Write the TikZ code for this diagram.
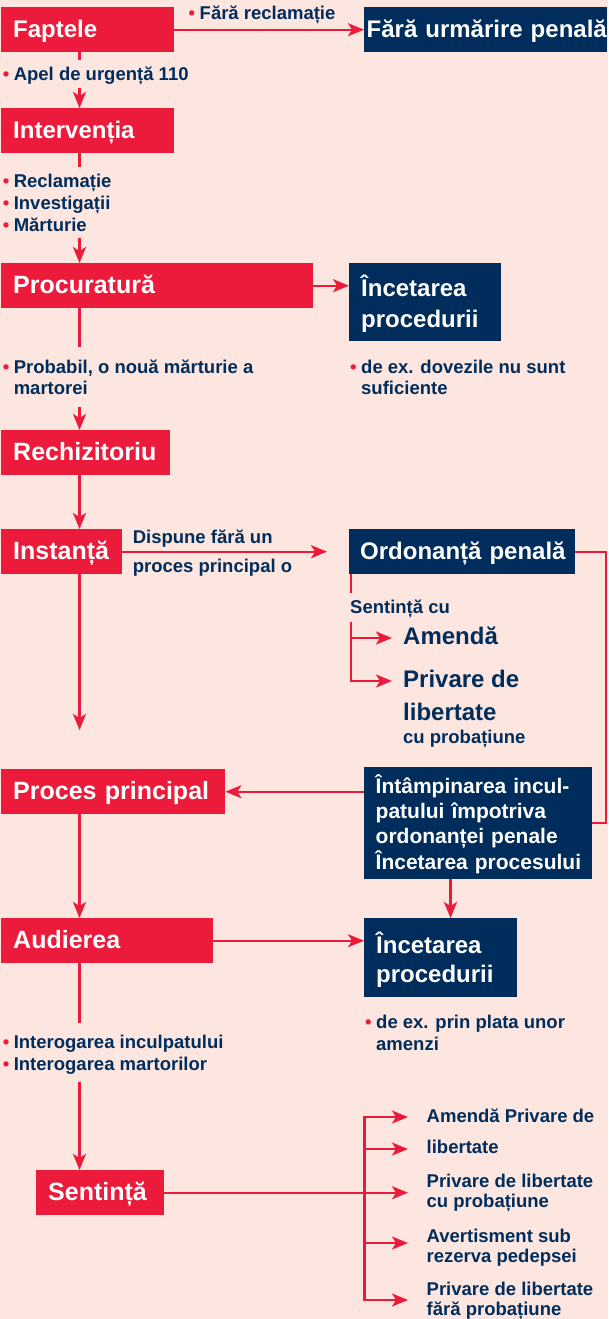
\documentclass[tikz,border=0pt]{standalone}
\usepackage{fontspec}
\setmainfont{Liberation Sans}
\usetikzlibrary{arrows.meta}
\definecolor{tred}{HTML}{ED1B3B}
\definecolor{tnavy}{HTML}{002D5C}
\definecolor{tbg}{HTML}{FCE6DF}
\newcommand\bul{\llap{\textcolor{tred}{•}\hspace{4.5pt}}}
\tikzset{
  box/.style={anchor=north west, inner ysep=0pt, inner xsep=12pt, text=white,
    font=\bfseries\fontsize{24}{30}\selectfont, align=left},
  redbox/.style={box, fill=tred},
  navybox/.style={box, fill=tnavy},
  onebox/.style={text height=30.5pt, text depth=14.5pt},
  bigger/.style={font=\bfseries\fontsize{25}{30}\selectfont},
  lbl/.style={anchor=base west, inner sep=0pt, text=tnavy,
    font=\bfseries\fontsize{18.5}{22}\selectfont, align=left},
  biglbl/.style={lbl, font=\bfseries\fontsize{24}{33}\selectfont},
  conn/.style={draw=tred, line width=2.2pt},
  arr/.style={conn, -{Stealth[length=16pt,width=13pt,inset=4pt]}},
}
\begin{document}
\begin{tikzpicture}[x=1pt,y=-1pt]
\fill[tbg] (0,0) rectangle (608,1319);
\useasboundingbox (0,0) rectangle (608,1319);

% boxes
\node[redbox, onebox, text width=149pt] (faptele) at (1,7) {Faptele};
\node[navybox, onebox, inner xsep=2.5pt, text width=238pt] (fara) at (364,7) {\mbox{Fără urmărire penală}};
\node[redbox, onebox, text width=149pt] (interv) at (1,108) {Intervenția};
\node[redbox, onebox, bigger, text width=288pt] (procur) at (1,263) {Procuratură};
\node[navybox, text width=128pt, text height=33pt, text depth=45pt,
  font=\bfseries\fontsize{24}{31}\selectfont] (incet1) at (349,263) {Încetarea\\procedurii};
\node[redbox, onebox, bigger, text width=145pt] (rechiz) at (1,430) {Rechizitoriu};
\node[redbox, onebox, bigger, text width=97pt] (instanta) at (1,529) {\mbox{Instanță}};
\node[navybox, onebox, inner xsep=11pt, text width=204pt] (ordon) at (349,529) {\mbox{Ordonanță penală}};
\node[redbox, onebox, bigger, text width=200pt] (procprinc) at (1,769) {\mbox{Proces principal}};
\node[navybox, inner xsep=11.5pt, text width=205pt, text height=26pt, text depth=86pt,
  font=\bfseries\fontsize{21}{25.3}\selectfont] (intamp) at (364,767)
  {\mbox{Întâmpinarea incul-}\\\mbox{patului împotriva}\\\mbox{ordonanței penale}\\\mbox{Încetarea procesului}};
\node[redbox, onebox, bigger, text width=188pt] (audierea) at (1,918) {Audierea};
\node[navybox, text width=129pt, text height=35pt, text depth=44pt,
  font=\bfseries\fontsize{24}{29}\selectfont] (incet2) at (364,918) {Încetarea\\procedurii};
\node[redbox, onebox, bigger, text width=104pt] (sentinta) at (36,1170) {\mbox{Sentință}};

% labels (multi-line labels are placed at the baseline of their last line)
\node[lbl] (farar) at (199.5,19.5) {\bul Fără reclamație};
\node[lbl] (apel) at (13.6,81) {\bul Apel de urgență 110};
\node[lbl] (reclam) at (13.6,231.7) {\bul Reclamație\\\bul Investigații\\\bul Mărturie};
\node[lbl, font=\bfseries\fontsize{18.5}{21.3}\selectfont] (probabil) at (13.6,394.3) {\bul Probabil, o nouă mărturie a\\martorei};
\node[lbl, font=\bfseries\fontsize{18.5}{21.3}\selectfont] (dovezi) at (361,394.3) {\bul de ex. dovezile nu sunt\\suficiente};
\node[lbl, font=\bfseries\fontsize{18.5}{29}\selectfont] (dispune) at (132.6,572) {Dispune fără un\\proces principal o};
\node[lbl] (sentcu) at (350,613) {Sentință cu};
\node[biglbl] (amenda) at (403,644) {Amendă};
\node[biglbl] (privare) at (403,720) {Privare de\\libertate};
\node[lbl] (cuprob) at (403,743) {cu probațiune};
\node[lbl] (plata) at (376,1050) {\bul de ex. prin plata unor\\amenzi};
\node[lbl] (interog) at (13.6,1070) {\bul Interogarea inculpatului\\\bul Interogarea martorilor};
\node[lbl] (s1) at (426.5,1122) {Amendă Privare de};
\node[lbl] (s2) at (426.5,1153) {libertate};
\node[lbl, font=\bfseries\fontsize{18.5}{20}\selectfont] (s3) at (426.5,1207) {Privare de libertate\\cu probațiune};
\node[lbl, font=\bfseries\fontsize{18.5}{20}\selectfont] (s4) at (426.5,1262) {Avertisment sub\\rezerva pedepsei};
\node[lbl, font=\bfseries\fontsize{18.5}{20}\selectfont] (s5) at (426.5,1315) {Privare de libertate\\fără probațiune};

% coordinates
\coordinate (vx) at (79.5,0);
\coordinate (g1) at (79.5,60);
\coordinate (g2) at (79.5,88);
\coordinate (g3) at (79.5,167);
\coordinate (g4) at (79.5,238);
\coordinate (g5) at (79.5,347);
\coordinate (g6) at (79.5,407);
\coordinate (g7) at (79.5,730);
\coordinate (g8) at (79.5,1023);
\coordinate (g9) at (79.5,1082);
\coordinate (rx) at (606,0);
\coordinate (o1) at (351,593);
\coordinate (o2) at (351,622);
\coordinate (o3) at (351,681);
\coordinate (o4) at (351,638);
\coordinate (ix) at (450.5,0);
\coordinate (b1) at (364.5,1117);
\coordinate (b2) at (364.5,1149);
\coordinate (b4) at (364.5,1243);
\coordinate (b5) at (364.5,1300);

% spine
\draw[conn] (faptele.south -| g1) -- (g1);
\draw[arr] (g2) -- (g2 |- interv.north);
\draw[conn] (interv.south -| g3) -- (g3);
\draw[arr] (g4) -- (g4 |- procur.north);
\draw[conn] (procur.south -| g5) -- (g5);
\draw[arr] (g6) -- (g6 |- rechiz.north);
\draw[arr] (rechiz.south -| vx) -- (vx |- instanta.north);
\draw[arr] (instanta.south -| g7) -- (g7);
\draw[arr] (procprinc.south -| vx) -- (vx |- audierea.north);
\draw[conn] (audierea.south -| g8) -- (g8);
\draw[arr] (g9) -- (g9 |- sentinta.north);

% horizontal connectors
\draw[arr] (faptele.east) -- (fara.west);
\draw[arr] (procur.east) -- (procur.east -| incet1.west);
\draw[arr, shorten >=22pt] (instanta.east) -- (instanta.east -| ordon.west);
\draw[conn] (ordon.east) -- (ordon.east -| rx) |- (intamp.east);
\draw[conn] (ordon.south -| o1) -- (o1);
\draw[arr, shorten >=11pt] (o2) |- (o3 -| privare.west);
\draw[arr, shorten >=11pt] (o4) -- (o4 -| amenda.west);
\draw[arr] (intamp.west |- procprinc.east) -- (procprinc.east);
\draw[arr] (intamp.south -| ix) -- (ix |- incet2.north);
\draw[arr] (audierea.east) -- (audierea.east -| incet2.west);
\draw[arr, shorten >=18.5pt] (sentinta.east) -- (sentinta.east -| s3.west);
\draw[arr, shorten >=18.5pt] (b5) |- (b1 -| s1.west);
\draw[arr, shorten >=18.5pt] (b1) |- (b5 -| s5.west);
\draw[arr, shorten >=18.5pt] (b2) -- (b2 -| s2.west);
\draw[arr, shorten >=18.5pt] (b4) -- (b4 -| s4.west);
\end{tikzpicture}
\end{document}
